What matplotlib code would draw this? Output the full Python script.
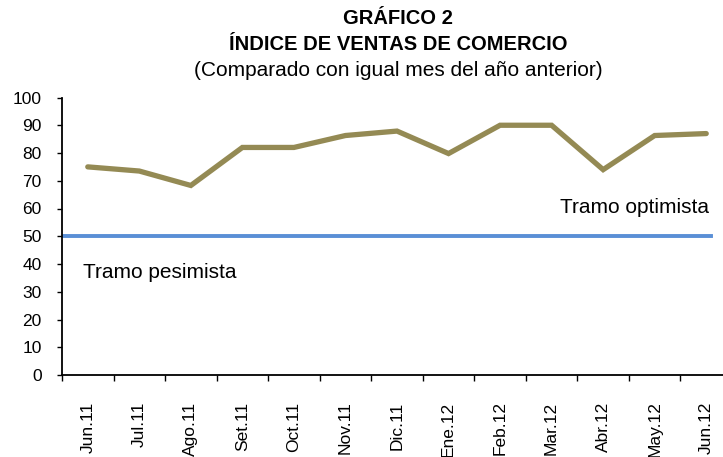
import matplotlib
matplotlib.use("Agg")
import matplotlib.pyplot as plt
import numpy as np

plt.rcParams['font.family'] = ['Liberation Sans', 'DejaVu Sans']

meses = ["Jun.11", "Jul.11", "Ago.11", "Set.11", "Oct.11", "Nov.11", "Dic.11",
         "Ene.12", "Feb.12", "Mar.12", "Abr.12", "May.12", "Jun.12"]
indice = [75, 73.5, 68.3, 82, 82, 86.3, 87.9, 79.8, 90, 90, 74, 86.3, 87]
umbral = 50
yticks = list(range(0, 101, 10))

W, H = 723, 457
fig = plt.figure(figsize=(W / 100, H / 100), dpi=100)

# axes box in pixels (right side runs past the picture edge, as in the source)
left, right, top, bottom = 62, 732, 97.5, 375
ax = fig.add_axes([left / W, 1 - bottom / H, (right - left) / W, (bottom - top) / H])

x = np.arange(len(meses))
ax.plot(x, indice, color="#948A54", lw=3.8, solid_capstyle="round",
        solid_joinstyle="miter", zorder=3)
ax.axhline(umbral, xmin=0, xmax=0.968, color="#5A8FD6", lw=2.8, zorder=2)

ax.set_xlim(-0.5, len(meses) - 0.5)
ax.set_ylim(0, 100)
ax.set_yticks(yticks)
ax.tick_params(axis="y", direction="out", length=3.5, width=1, pad=11, labelsize=12.5)

ax.set_xticks(x)
ax.set_xticklabels(meses, rotation=90, fontsize=12.5, va="top")
ax.set_xticks(np.arange(-0.5, len(meses), 1), minor=True)
ax.tick_params(axis="x", which="major", length=0, pad=19)
ax.tick_params(axis="x", which="minor", direction="out", length=4, width=1)

for s in ["top", "right"]:
    ax.spines[s].set_visible(False)
for s in ["left", "bottom"]:
    ax.spines[s].set_linewidth(1.3)

ax.text(0.031, 0.37, "Tramo pesimista", transform=ax.transAxes, fontsize=15,
        ha="left", va="center")
ax.text(0.966, 0.605, "Tramo optimista", transform=ax.transAxes, fontsize=15,
        ha="right", va="center")

fig.text(398 / W, 1 - 18 / H, "GRÁFICO 2", ha="center", va="center",
         fontsize=14.5, fontweight="bold")
fig.text(398 / W, 1 - 44 / H, "ÍNDICE DE VENTAS DE COMERCIO", ha="center",
         va="center", fontsize=14.5, fontweight="bold")
fig.text(398 / W, 1 - 71 / H, "(Comparado con igual mes del año anterior)",
         ha="center", va="center", fontsize=15)

fig.savefig("out.png", dpi=100)
